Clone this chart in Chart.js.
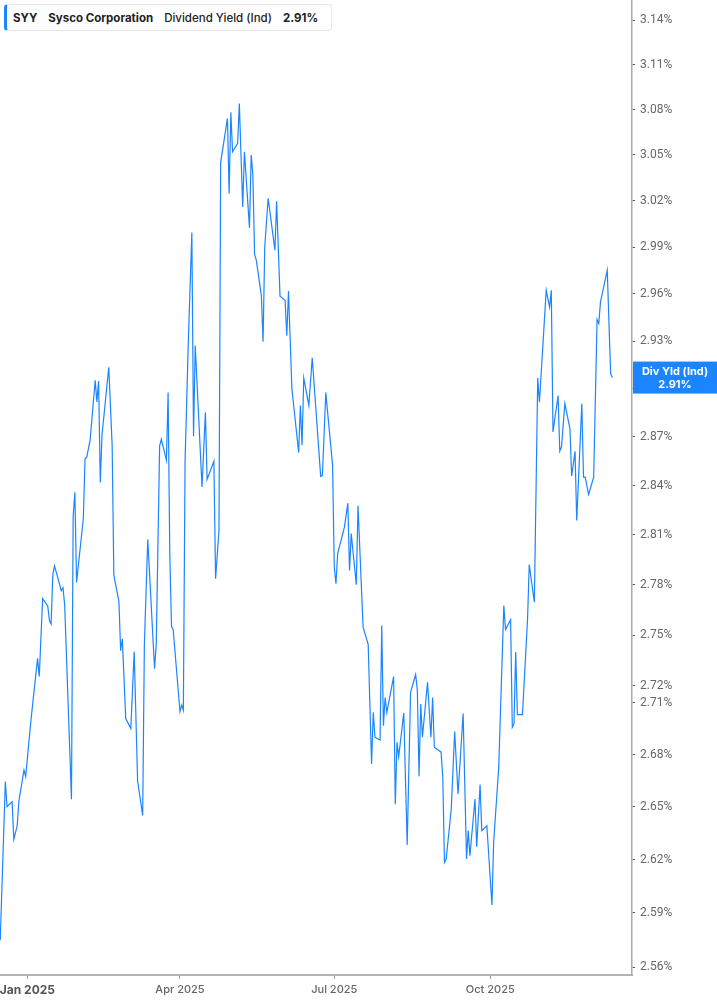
<!DOCTYPE html>
<html>
<head>
<meta charset="utf-8">
<script src="https://cdn.jsdelivr.net/npm/chart.js@4.4.1/dist/chart.umd.min.js"></script>
<style>
  html, body { margin: 0; padding: 0; background: #fff; }
  #wrap { position: relative; width: 717px; height: 1005px; }
  #legend {
    position: absolute; left: 4px; top: 4px; height: 25px;
    display: flex; align-items: center; gap: 11px;
    padding: 0 13px 0 6px; background: #fff;
    border: 1px solid #e8e8e8; border-left: 3px solid #1a85ff; border-radius: 4px;
    font: 500 11.5px Inter, "Noto Sans", sans-serif; color: #222; white-space: nowrap;
  }
  #legend b { font-weight: 700; }
</style>
</head>
<body>
<div id="wrap">
  <canvas id="yieldChart"></canvas>
  <div id="legend"><b>SYY</b><b>Sysco Corporation</b><span>Dividend Yield (Ind)</span><b>2.91%</b></div>
</div>
<script>
// --- Data (x = days since 2025-01-01, y = dividend yield in %) ---
const dayOffsets = [
    -16, -13, -12, -9, -8, -6, -5, -2, -1, 2,
    6, 7, 9, 12, 13, 14, 15, 16, 20, 21,
    22, 26, 27, 28, 29, 33, 34, 35, 37, 40,
    41, 42, 43, 44, 48, 50, 51, 54, 55, 56,
    58, 61, 63, 65, 68, 69, 71, 75, 76, 78,
    79, 82, 83, 84, 85, 86, 90, 91, 92, 93,
    95, 97, 98, 99, 103, 105, 106, 110, 111, 113,
    114, 118, 119, 120, 121, 124, 125, 127, 128, 131,
    132, 133, 134, 135, 138, 139, 140, 142, 146, 147,
    149, 152, 153, 154, 156, 160, 161, 162, 163, 166,
    168, 173, 174, 176, 180, 181, 182, 183, 187, 189,
    190, 191, 194, 195, 198, 201, 203, 204, 205, 208,
    209, 210, 211, 212, 216, 217, 218, 219, 222, 224,
    226, 229, 230, 231, 232, 233, 236, 238, 239, 240,
    244, 245, 246, 247, 250, 252, 254, 257, 259, 260,
    261, 264, 265, 267, 268, 271, 274, 275, 278, 281,
    282, 285, 286, 287, 288, 289, 292, 295, 296, 299,
    301, 302, 306, 308, 309, 310, 313, 314, 315, 317,
    320, 321, 323, 324, 327, 328, 329, 331, 334, 336,
    337, 338, 342, 344, 345
];

const yields = [
    2.575, 2.6645, 2.650, 2.6528, 2.6315, 2.6393, 2.6532, 2.6711, 2.6673, 2.699,
    2.7362, 2.7255, 2.7717, 2.7673, 2.7588, 2.7566, 2.7859, 2.7913, 2.7764, 2.7782,
    2.7678, 2.6543, 2.8211, 2.836, 2.7814, 2.820, 2.8565, 2.8575, 2.8681, 2.9053,
    2.8918, 2.9049, 2.842, 2.8711, 2.9135, 2.8645, 2.7857, 2.7697, 2.7407, 2.7478,
    2.7009, 2.6952, 2.7403, 2.6648, 2.6451, 2.7445, 2.8073, 2.7301, 2.7445, 2.8645,
    2.8686, 2.8556, 2.8977, 2.7979, 2.7552, 2.7532, 2.7049, 2.7088, 2.7058, 2.8548,
    2.9326, 2.9993, 2.8705, 2.9272, 2.8392, 2.8853, 2.8439, 2.855, 2.7836, 2.8128,
    3.0451, 3.0741, 3.0248, 3.0781, 3.0521, 3.0577, 3.084, 3.016, 3.0521, 3.0024,
    3.05, 3.0368, 2.9853, 2.9816, 2.959, 2.9295, 2.9902, 3.0216, 2.988, 3.0197,
    2.9584, 2.9558, 2.9333, 2.9618, 2.9001, 2.8604, 2.8896, 2.8649, 2.9068, 2.8896,
    2.9195, 2.8457, 2.8463, 2.8976, 2.8525, 2.7906, 2.7806, 2.7987, 2.8148, 2.8293,
    2.7886, 2.8108, 2.78, 2.8277, 2.7547, 2.7445, 2.6746, 2.7045, 2.6901, 2.6885,
    2.7557, 2.6968, 2.7132, 2.7045, 2.7255, 2.6515, 2.6872, 2.6789, 2.7042, 2.6283,
    2.7162, 2.7267, 2.7172, 2.6675, 2.7094, 2.6901, 2.7221, 2.6901, 2.7132, 2.6843,
    2.6814, 2.6669, 2.6184, 2.6203, 2.6487, 2.6934, 2.6573, 2.7039, 2.6203, 2.6364,
    2.6222, 2.6544, 2.6273, 2.6627, 2.6364, 2.6392, 2.5945, 2.6298, 2.6727, 2.7675,
    2.7533, 2.7591, 2.6958, 2.6978, 2.7399, 2.7032, 2.7032, 2.7597, 2.7921, 2.7695,
    2.9068, 2.8916, 2.9622, 2.9516, 2.9622, 2.8731, 2.8958, 2.8612, 2.8638, 2.8907,
    2.8752, 2.8459, 2.8612, 2.8188, 2.8907, 2.8453, 2.8453, 2.8346, 2.8453, 2.9436,
    2.9411, 2.9547, 2.9751, 2.9095, 2.907
];

const xTickDays = [0, 90, 181, 273];
const xTickLabels = ['Jan 2025', 'Apr 2025', 'Jul 2025', 'Oct 2025'];
const yTickValues = [2.56, 2.59, 2.62, 2.65, 2.68, 2.71, 2.72, 2.75, 2.78, 2.81, 2.84,
                     2.87, 2.90, 2.93, 2.96, 2.99, 3.02, 3.05, 3.08, 3.11, 3.14];

const LINE_COLOR = '#1a85ff';
const BADGE_TITLE = 'Div Yld (Ind)';
const BADGE_VALUE = '2.91%';

const points = [];
const n = Math.min(dayOffsets.length, yields.length);
for (let i = 0; i < n; i++) points.push({ x: dayOffsets[i], y: yields[i] });

// labels may hang over the edges, so drop the padding Chart.js reserves for them
function noLabelPadding(axis) {
    axis.paddingTop = 0;
    axis.paddingBottom = 0;
    axis.paddingLeft = 0;
    axis.paddingRight = 0;
}

// --- Last value badge on the right axis ---
const badgePlugin = {
    id: 'lastBadge',
    afterDraw(chart) {
        const { ctx, chartArea, scales } = chart;
        const y = scales.y.getPixelForValue(yields[n - 1]);
        const left = chartArea.right + 1;
        const w = chart.width - left;
        ctx.save();
        ctx.fillStyle = LINE_COLOR;
        ctx.fillRect(left, y - 16, w, 32);
        ctx.fillStyle = '#fff';
        ctx.font = 'bold 11px Inter, "Noto Sans", sans-serif';
        ctx.textAlign = 'center';
        ctx.textBaseline = 'middle';
        ctx.fillText(BADGE_TITLE, left + w / 2, y - 6);
        ctx.fillText(BADGE_VALUE, left + w / 2, y + 7);
        ctx.restore();
    }
};

// --- Chart ---
new Chart(document.getElementById('yieldChart'), {
    type: 'line',
    data: {
        datasets: [{
            data: points,
            borderColor: LINE_COLOR,
            borderWidth: 1.2,
            pointRadius: 0,
            tension: 0,
            fill: false
        }]
    },
    options: {
        responsive: true,
        maintainAspectRatio: false,
        animation: false,
        layout: { padding: 0 },
        plugins: { legend: { display: false }, tooltip: { enabled: false } },
        scales: {
            x: {
                type: 'linear',
                min: -16.15,
                max: 356.6,
                afterBuildTicks: (axis) => { axis.ticks = xTickDays.map(v => ({ value: v })); },
                afterFit: (axis) => { axis.height = 30; noLabelPadding(axis); },
                grid: { drawOnChartArea: false, drawTicks: true, tickLength: 4, color: '#999' },
                border: { color: '#b3b3b3', width: 2 },
                ticks: {
                    autoSkip: false,
                    maxRotation: 0,
                    padding: 4,
                    color: (c) => c.index === 0 ? '#555' : '#666',
                    font: (c) => c.index === 0
                        ? { family: 'Inter, "Noto Sans", sans-serif', size: 12, weight: 'bold' }
                        : { family: 'Inter, "Noto Sans", sans-serif', size: 11, weight: '500' },
                    callback: (v) => {
                        const i = xTickDays.indexOf(v);
                        return i >= 0 ? xTickLabels[i] : '';
                    }
                }
            },
            y: {
                type: 'logarithmic',
                position: 'right',
                min: 2.5556,
                max: 3.1536,
                afterBuildTicks: (axis) => { axis.ticks = yTickValues.map(v => ({ value: v })); },
                afterFit: (axis) => { axis.width = 85; noLabelPadding(axis); },
                grid: { drawOnChartArea: false, drawTicks: true, tickLength: 3, color: '#555' },
                border: { color: '#aaa', width: 1.5 },
                ticks: {
                    autoSkip: false,
                    padding: 5,
                    color: '#666',
                    font: { family: 'Roboto, sans-serif', size: 12 },
                    callback: (v) => Number(v).toFixed(2) + '%'
                }
            }
        }
    },
    plugins: [badgePlugin]
});
</script>
</body>
</html>
